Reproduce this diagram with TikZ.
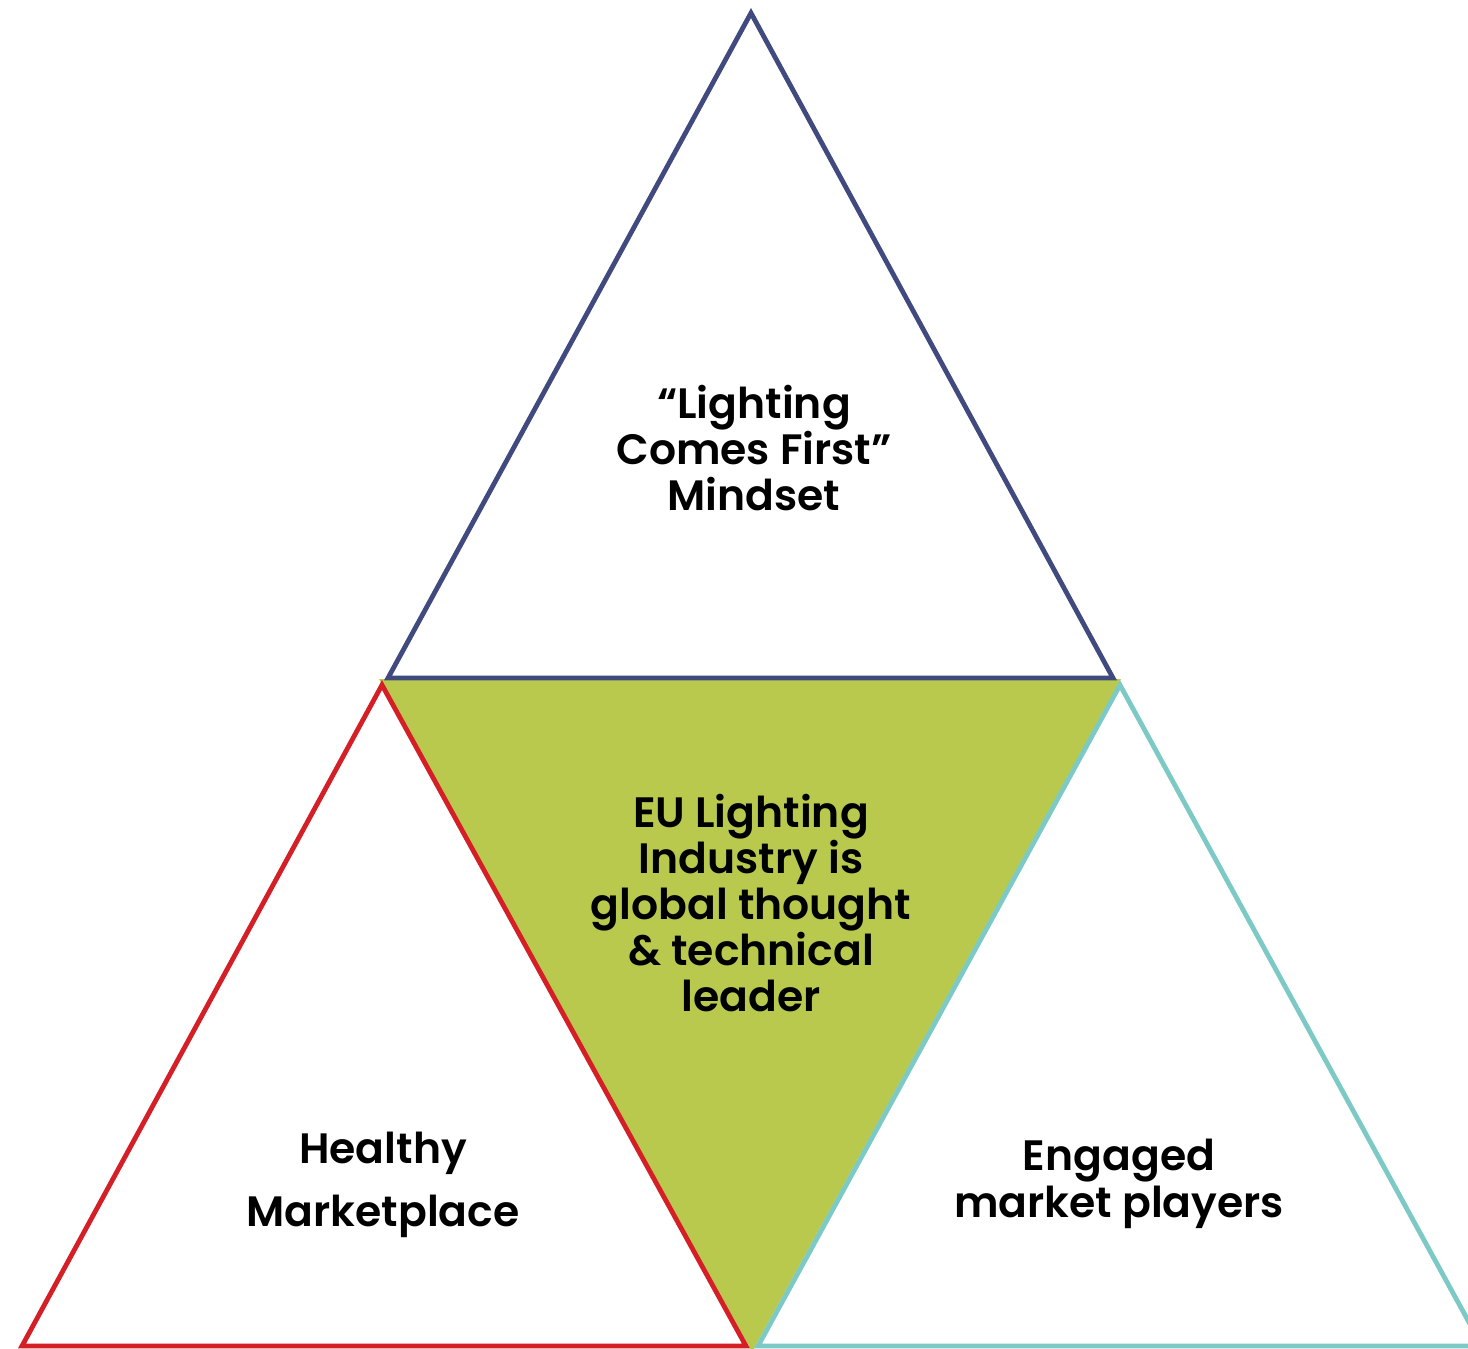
\documentclass[tikz,border=0pt]{standalone}
\usepackage{fontspec}
\setmainfont{Poppins}[BoldFont={Poppins SemiBold}]
\definecolor{navy}{HTML}{414A7E}
\definecolor{redc}{HTML}{D51F26}
\definecolor{tealc}{HTML}{7CC9C6}
\definecolor{greenc}{HTML}{B9C94D}
\begin{document}
\begin{tikzpicture}[x=1pt,y=-1pt,
  tri/.style={line width=4.8pt,line join=miter},
  lbl/.style={align=center,font=\fontsize{42.5}{46}\selectfont\bfseries,inner sep=0pt}]
\useasboundingbox (0,0) rectangle (1468,1349);
\clip (0,0) rectangle (1468,1349);
\fill[greenc] (379,679) -- (1121,679) -- (752,1352) -- cycle;
\draw[tri,navy] (751,13) -- (388,678) -- (1113,678) -- cycle;
\draw[tri,redc] (382,685) -- (22,1346) -- (746,1346) -- cycle;
\draw[tri,tealc] (1120,685) -- (758,1346) -- (1482,1346) -- cycle;
\node[lbl] (mind) at (754,448) {“Lighting\\Comes First”\\Mindset};
\node[lbl] (eu) at (751,903) {EU Lighting\\Industry is\\global thought\\\& technical\\leader};
\node[lbl] (health) at (383,1185) {Healthy\\[17pt]Marketplace};
\node[lbl] (engaged) at (1119,1184) {Engaged\\[1pt]market players};
\end{tikzpicture}
\end{document}
